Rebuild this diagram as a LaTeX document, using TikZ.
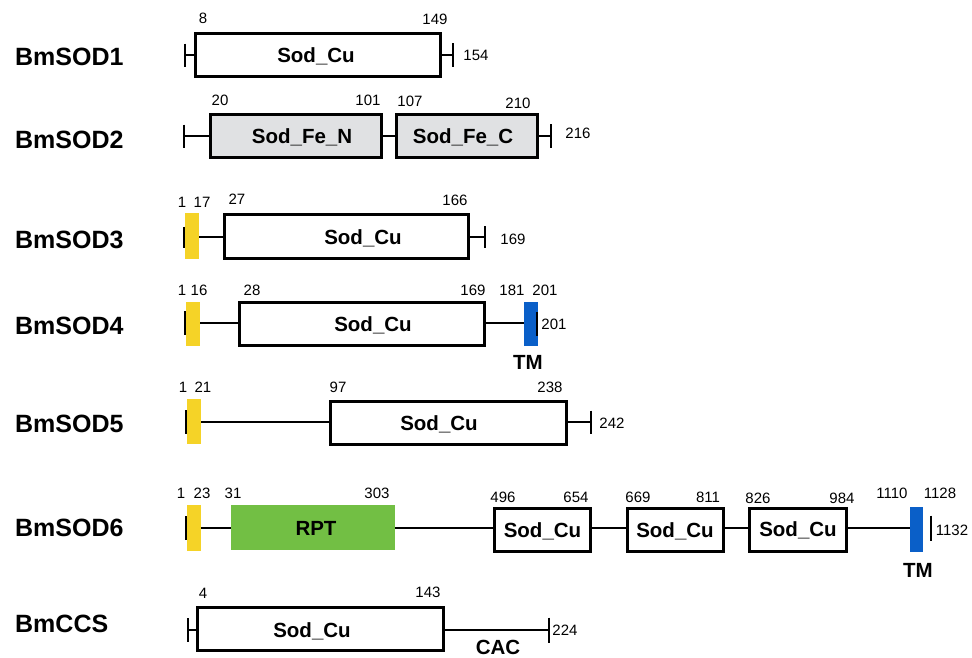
\documentclass[tikz,border=0pt]{standalone}
\usepackage{fontspec}
\setmainfont{Liberation Sans}
\definecolor{sigyellow}{HTML}{F5D327}
\definecolor{tmblue}{HTML}{0A5FC8}
\definecolor{rptgreen}{HTML}{72BF44}
\definecolor{fegray}{HTML}{E0E1E3}
\begin{document}
\begin{tikzpicture}[x=1pt,y=-1pt,
  dbox/.style={draw, line width=3pt, fill=white, inner sep=0pt, minimum height=43pt},
  sigbox/.style={fill=sigyellow, draw=none, inner sep=0pt, minimum width=14pt, minimum height=45pt},
  tmbox/.style={fill=tmblue, draw=none, inner sep=0pt, minimum width=14pt, minimum height=44pt},
  ln/.style={line width=2pt},
  tk/.style={line width=2pt},
  num/.style={font=\fontsize{15}{15}\selectfont, inner sep=0pt, text height=10.75pt, text depth=0pt},
  pname/.style={font=\bfseries\fontsize{25}{25}\selectfont, anchor=west, inner sep=0pt, text height=17.9pt, text depth=0pt},
  dom/.style={font=\bfseries\fontsize{20.5}{20.5}\selectfont, inner sep=0pt, text height=14.7pt, text depth=0pt},
]
\useasboundingbox (0,0) rectangle (972,657);

% ---------- names
\node[pname] (n1) at (15,56.5) {BmSOD1};
\node[pname] (n2) at (15,140) {BmSOD2};
\node[pname] (n3) at (15,240) {BmSOD3};
\node[pname] (n4) at (15,326) {BmSOD4};
\node[pname] (n5) at (15,424) {BmSOD5};
\node[pname] (n6) at (15,527.5) {BmSOD6};
\node[pname] (n7) at (15,624) {BmCCS};

% ---------- BmSOD1
\coordinate (s1l) at (185,55); \coordinate (s1r) at (453,55);
\node[dbox, minimum width=245pt] (s1a) at (318,55) {};
\node[dom] (s1at) at (316,55) {Sod\_Cu};
\draw[ln] (s1l) -- (s1a.west); \draw[ln] (s1a.east) -- (s1r);
\draw[tk] (s1l) ++(0,-11.5) -- ++(0,23);
\draw[tk] (s1r) ++(0,-12) -- ++(0,24);
\node[num] (s1n1) at (203,18) {8};
\node[num] (s1n2) at (435,19) {149};
\node[num] (s1n3) at (476,55) {154};

% ---------- BmSOD2
\coordinate (s2l) at (184,136); \coordinate (s2r) at (551,136);
\node[dbox, minimum width=171pt, fill=fegray] (s2a) at (296,136) {};
\node[dbox, minimum width=141pt, fill=fegray] (s2b) at (467,136) {};
\node[dom] (s2at) at (302,136) {Sod\_Fe\_N};
\node[dom] (s2bt) at (463,136) {Sod\_Fe\_C};
\draw[ln] (s2l) -- (s2a.west); \draw[ln] (s2a.east) -- (s2b.west); \draw[ln] (s2b.east) -- (s2r);
\draw[tk] (s2l) ++(0,-11.5) -- ++(0,23);
\draw[tk] (s2r) ++(0,-12) -- ++(0,24);
\node[num] (s2n1) at (220,100) {20};
\node[num] (s2n2) at (368,100) {101};
\node[num] (s2n3) at (410,101) {107};
\node[num] (s2n4) at (518,103) {210};
\node[num] (s2n5) at (578,133) {216};

% ---------- BmSOD3
\node[sigbox, minimum height=46pt] (s3s) at (192,236) {};
\coordinate (s3l) at (184,237); \coordinate (s3r) at (485,237);
\node[dbox, minimum width=244pt, minimum height=44pt] (s3a) at (346.5,236) {};
\node[dom] (s3at) at (363,237) {Sod\_Cu};
\draw[ln] (s3s.east |- s3l) -- (s3a.west |- s3l); \draw[ln] (s3a.east |- s3r) -- (s3r);
\draw[tk] (s3l) ++(0,-10.5) -- ++(0,21);
\draw[tk] (s3r) ++(0,-11) -- ++(0,22);
\node[num] (s3n1) at (182,202) {1};
\node[num] (s3n2) at (202,202) {17};
\node[num] (s3n3) at (237,199) {27};
\node[num] (s3n4) at (455,200) {166};
\node[num] (s3n5) at (513,239) {169};

% ---------- BmSOD4
\node[sigbox, minimum height=44pt] (s4s) at (193,324) {};
\node[tmbox] (s4t) at (531,324) {};
\coordinate (s4l) at (185,323); \coordinate (s4r) at (537,324);
\node[dbox, minimum width=245pt] (s4a) at (362,324) {};
\node[dom] (s4at) at (373,324) {Sod\_Cu};
\draw[ln] (s4s.east |- s4l) -- (s4a.west |- s4l); \draw[ln] (s4a.east |- s4l) -- (s4t.west |- s4l);
\draw[tk] (s4l) ++(0,-12) -- ++(0,24);
\draw[tk] (s4r) ++(0,-12) -- ++(0,24);
\node[num] (s4n1) at (182,290) {1};
\node[num] (s4n2) at (199,290) {16};
\node[num] (s4n3) at (252,290) {28};
\node[num] (s4n4) at (473,290) {169};
\node[num] (s4n5) at (512,290) {181};
\node[num] (s4n6) at (545,290) {201};
\node[num] (s4n7) at (554,324) {201};
\node[dom] (s4tm) at (528,362) {TM};

% ---------- BmSOD5
\node[sigbox] (s5s) at (194,421.5) {};
\coordinate (s5l) at (186,422); \coordinate (s5r) at (591,422);
\node[dbox, minimum width=236pt] (s5a) at (448.5,423) {};
\node[dom] (s5at) at (439,423) {Sod\_Cu};
\draw[ln] (s5s.east |- s5l) -- (s5a.west |- s5l); \draw[ln] (s5a.east |- s5r) -- (s5r);
\draw[tk] (s5l) ++(0,-12) -- ++(0,24);
\draw[tk] (s5r) ++(0,-11.5) -- ++(0,23);
\node[num] (s5n1) at (183,387) {1};
\node[num] (s5n2) at (203,387) {21};
\node[num] (s5n3) at (338,387) {97};
\node[num] (s5n4) at (550,387) {238};
\node[num] (s5n5) at (612,423) {242};

% ---------- BmSOD6
\node[sigbox, minimum height=46pt] (s6s) at (194,528) {};
\node[fill=rptgreen, inner sep=0pt, minimum width=164pt, minimum height=45pt] (s6r) at (313,527.5) {};
\node[dom] (s6rt) at (316,528) {RPT};
\node[dbox, minimum width=96pt, minimum height=43pt] (s6a) at (542.5,530) {};
\node[dbox, minimum width=96pt, minimum height=43pt] (s6b) at (675,530) {};
\node[dbox, minimum width=97pt, minimum height=43pt] (s6c) at (798,529.5) {};
\node[dom] (s6at) at (542.5,530) {Sod\_Cu};
\node[dom] (s6bt) at (675,530) {Sod\_Cu};
\node[dom] (s6ct) at (798,529.5) {Sod\_Cu};
\node[tmbox, minimum width=13pt, minimum height=45pt] (s6t) at (916.5,529.5) {};
\coordinate (s6l) at (186,528); \coordinate (s6e) at (931,528);
\draw[ln] (s6s.east |- s6l) -- (s6r.west |- s6l);
\draw[ln] (s6r.east |- s6l) -- (s6a.west |- s6l);
\draw[ln] (s6a.east |- s6l) -- (s6b.west |- s6l);
\draw[ln] (s6b.east |- s6l) -- (s6c.west |- s6l);
\draw[ln] (s6c.east |- s6l) -- (s6t.west |- s6l);
\draw[tk] (s6l) ++(0,-12) -- ++(0,24);
\draw[tk] (s6e) ++(0,-12.5) -- ++(0,25);
\node[num] (s6n1) at (181,493) {1};
\node[num] (s6n2) at (202,493) {23};
\node[num] (s6n3) at (233,493) {31};
\node[num] (s6n4) at (377,493) {303};
\node[num] (s6n5) at (503,497) {496};
\node[num] (s6n6) at (576,497) {654};
\node[num] (s6n7) at (638,497) {669};
\node[num] (s6n8) at (708,497) {811};
\node[num] (s6n9) at (758,498) {826};
\node[num] (s6n10) at (842,498) {984};
\node[num] (s6n11) at (892,493) {1110};
\node[num] (s6n12) at (940,493) {1128};
\node[num] (s6n13) at (952,530) {1132};
\node[dom] (s6tm) at (918,570) {TM};

% ---------- BmCCS
\coordinate (c1l) at (188,630); \coordinate (c1r) at (549,630);
\node[dbox, minimum width=246pt] (c1a) at (320.5,629) {};
\node[dom] (c1at) at (312,630) {Sod\_Cu};
\draw[ln] (c1l) -- (c1a.west |- c1l); \draw[ln] (c1a.east |- c1r) -- (c1r);
\draw[tk] (c1l) ++(0,-12) -- ++(0,24);
\draw[tk] (c1r) ++(0,-12.5) -- ++(0,25);
\node[num] (c1n1) at (203,593) {4};
\node[num] (c1n2) at (428,592) {143};
\node[num] (c1n3) at (565,630) {224};
\node[dom] (c1cac) at (498,647) {CAC};
\end{tikzpicture}
\end{document}
